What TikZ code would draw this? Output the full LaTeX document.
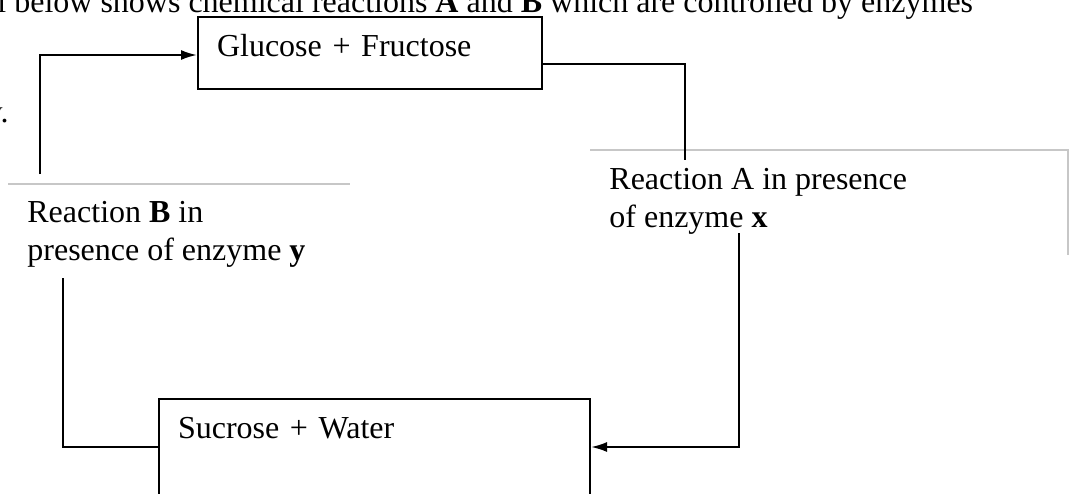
\documentclass[tikz,border=0pt]{standalone}
\usepackage{fontspec}
\setmainfont{Liberation Serif}
\usetikzlibrary{arrows.meta}

\begin{document}
\begin{tikzpicture}[x=.5pt,y=-.5pt,font=\fontsize{16}{19}\selectfont,
  box/.style={draw,line width=1pt,anchor=north west,align=left,
    inner xsep=9.5pt,inner ysep=0pt,text height=19.5pt},
  txt/.style={inner sep=0pt,align=left,anchor=base west},
  rule/.style={draw=black!22,line width=.6pt},
  link/.style={line width=1pt},
  arr/.style={link,-{Latex[length=8pt,width=5pt]}}]
  \useasboundingbox (0,0) rectangle (1070,493);
  % cut-off lines of the question
  \node[txt] (T) at (-3,12) {l below shows chemical reactions \textbf{A} and \textbf{B} which are controlled by enzymes};
  \node[inner sep=0pt,anchor=base east] (Y) at (9,122) {y.};
  % the two boxes
  \node[box,text width=153pt,text depth=16.5pt] (G) at (197,16) {Glucose + Fructose};
  \node[box,text width=196.5pt,text depth=50pt] (S) at (158,398) {Sucrose + Water};
  % reactions (base is the last line)
  \draw[rule] (590,150) -| (1068,255);
  \draw[rule] (8,184) -- (350,184);
  \node[txt] (RA) at (609,227) {Reaction A in presence\\of enzyme \textbf{x}};
  \node[txt] (RB) at (27,260) {Reaction \textbf{B} in\\presence of enzyme \textbf{y}};
  \coordinate (aIn) at (685,160);
  \coordinate (aOut) at (739,233);
  \coordinate (bIn) at (63,278);
  \coordinate (bOut) at (40,174);
  \draw[link] (G.east |- 0,64) -| (aIn);
  \draw[arr] (aOut) |- (S.east |- 0,447);
  \draw[link] (S.west |- 0,447) -| (bIn);
  \draw[arr] (bOut) |- (G.west |- 0,55);
\end{tikzpicture}
\end{document}
